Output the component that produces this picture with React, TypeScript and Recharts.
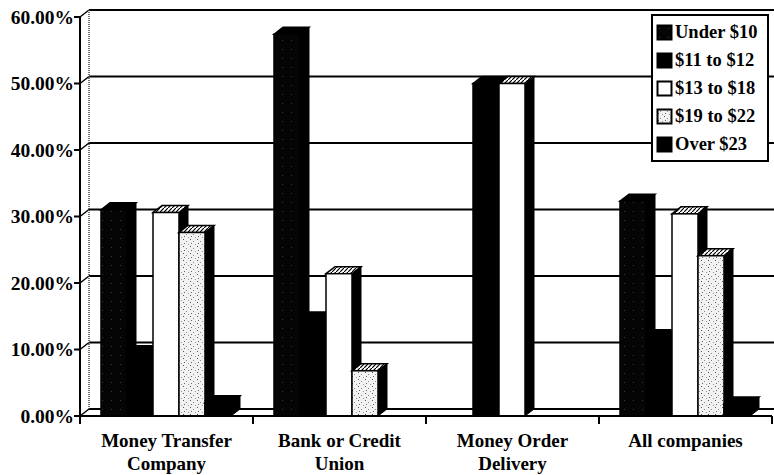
import { BarChart, Bar, XAxis, YAxis, CartesianGrid, Legend } from "recharts";

const categories = [
  "Money Transfer\nCompany",
  "Bank or Credit\nUnion",
  "Money Order\nDelivery",
  "All companies",
];
const seriesNames = ["Under $10", "$11 to $12", "$13 to $18", "$19 to $22", "Over $23"];
const under10 = [31.0, 57.4, 0, 32.3];
const from11to12 = [9.5, 14.6, 50, 11.9];
const from13to18 = [30.6, 21.4, 50, 30.4];
const from19to22 = [27.6, 6.8, 0, 24.1];
const over23 = [2.0, 0, 0, 1.8];
const yTicks = [0, 10, 20, 30, 40, 50, 60];

const data = categories.map((name, i) => ({
  name,
  s0: under10[i],
  s1: from11to12[i],
  s2: from13to18[i],
  s3: from19to22[i],
  s4: over23[i],
}));

const W = 774;
const H = 475;
const MARGIN = { top: 17, right: 2, left: 0, bottom: 0 };
const YAXIS_W = 80;
const BAND = (W - MARGIN.left - MARGIN.right - YAXIS_W) / categories.length;
const DX = 9;
const DY = -7;
const FONT = '"Liberation Serif", "Times New Roman", serif';

// front face + top + right side, excel 3d column look
function box3d(face: string, cap: string) {
  return (p: any) => {
    const { x, y, width: w, height: h } = p;
    if (!h || h < 0.5) return <g />;
    return (
      <g>
        <polygon
          points={`${x + w},${y} ${x + w + DX},${y + DY} ${x + w + DX},${y + h + DY} ${x + w},${y + h}`}
          fill="#000"
          stroke="#000"
        />
        <polygon
          points={`${x},${y} ${x + DX},${y + DY} ${x + w + DX},${y + DY} ${x + w},${y}`}
          fill={cap}
          stroke="#000"
          strokeWidth={1.5}
        />
        <rect x={x} y={y} width={w} height={h} fill={face} stroke="#000" strokeWidth={1.5} />
      </g>
    );
  };
}

const hLine = (p: any) => {
  const { x1, y1, x2, index } = p;
  return (
    <g key={`h-${index}`}>
      <line x1={x1} y1={y1} x2={x1 + DX} y2={y1 + DY} stroke="#000" strokeWidth={1.5} />
      <line x1={x1 + DX} y1={y1 + DY} x2={x2 + DX} y2={y1 + DY} stroke="#000" strokeWidth={2.2} />
    </g>
  );
};

const vLine = (p: any) => {
  const { x1, y1, x2, y2, index } = p;
  return (
    <line
      key={`v-${index}`}
      x1={x1 + DX}
      y1={y1 + DY}
      x2={x2 + DX}
      y2={y2 + DY}
      stroke="#444"
      strokeWidth={1.5}
      strokeDasharray="1 1"
    />
  );
};

const XTick = (p: any) => {
  const { x, y, payload, index } = p;
  const lines = String(payload.value).split("\n");
  const half = BAND / 2;
  return (
    <g>
      <line x1={x - half} y1={y} x2={x - half} y2={y + 8} stroke="#000" strokeWidth={2} />
      {index === categories.length - 1 && (
        <line x1={x + half} y1={y} x2={x + half} y2={y + 8} stroke="#000" strokeWidth={2} />
      )}
      <text x={x} y={y} textAnchor="middle" fill="#000" fontFamily={FONT} fontWeight="bold" fontSize={19}>
        {lines.map((l, i) => (
          <tspan key={i} x={x} dy={i === 0 ? 31 : 22.5}>
            {l}
          </tspan>
        ))}
      </text>
    </g>
  );
};

const renderLegend = (props: any) => {
  const items = [...(props.payload || [])].sort(
    (a: any, b: any) => seriesNames.indexOf(a.value) - seriesNames.indexOf(b.value)
  );
  return (
    <div
      style={{
        border: "2px solid #000",
        background: "#fff",
        padding: "2px 3px",
        fontFamily: FONT,
        fontWeight: "bold",
        fontSize: 18.5,
        color: "#000",
        lineHeight: "28px",
      }}
    >
      {items.map((e: any) => (
        <div key={e.value} style={{ display: "flex", alignItems: "center", height: 28 }}>
          <svg width={17} height={17} style={{ marginRight: 2 }}>
            <rect x={1.5} y={1.5} width={14} height={14} fill={e.color} stroke="#000" strokeWidth={2} />
          </svg>
          <span>{e.value}</span>
        </div>
      ))}
    </div>
  );
};

const fills = ["url(#dotsDark)", "#000", "#fff", "url(#dotsLight)", "#000"];
const caps = ["#000", "#000", "url(#hatch)", "url(#hatch)", "#000"];

export default function App() {
  return (
    <div style={{ position: "absolute", left: 0, top: 0, background: "#fff" }}>
      <BarChart width={W} height={H} data={data} margin={MARGIN} barCategoryGap={21} barGap={0}>
        <defs>
          <pattern id="dotsDark" width="9" height="9" patternUnits="userSpaceOnUse">
            <rect width="9" height="9" fill="#050505" />
            <rect x="3" y="4" width="1" height="1" fill="#3a3a3a" />
          </pattern>
          <pattern id="dotsLight" width="7" height="7" patternUnits="userSpaceOnUse">
            <rect width="7" height="7" fill="#f2f2f2" />
            <rect x="1" y="1" width="1" height="1" fill="#555" />
            <rect x="4" y="3" width="1" height="1" fill="#888" />
            <rect x="2" y="5" width="1" height="1" fill="#666" />
            <rect x="6" y="6" width="1" height="1" fill="#999" />
          </pattern>
          <pattern id="hatch" width="4" height="4" patternUnits="userSpaceOnUse">
            <rect width="4" height="4" fill="#fff" />
            <path d="M0,4 L4,0" stroke="#000" strokeWidth="1.2" />
          </pattern>
        </defs>
        <CartesianGrid
          horizontal={hLine}
          vertical={vLine}
          verticalCoordinatesGenerator={({ offset }: any) => [offset.left]}
        />
        <XAxis
          dataKey="name"
          height={59}
          axisLine={{ stroke: "#000", strokeWidth: 2 }}
          tickLine={false}
          tickSize={0}
          tickMargin={0}
          interval={0}
          tick={<XTick />}
        />
        <YAxis
          width={YAXIS_W}
          domain={[0, 60]}
          ticks={yTicks}
          interval={0}
          tickFormatter={(v: number) => `${v.toFixed(2)}%`}
          axisLine={{ stroke: "#000", strokeWidth: 2 }}
          tickLine={{ stroke: "#000", strokeWidth: 2 }}
          tickSize={6}
          tickMargin={0}
          tick={{ fill: "#000", fontFamily: FONT, fontWeight: "bold", fontSize: 19.5 }}
        />
        <Legend
          layout="vertical"
          align="center"
          verticalAlign="middle"
          content={renderLegend}
          wrapperStyle={{ left: 651, top: 14, width: 118 }}
        />
        {seriesNames.map((n, i) => (
          <Bar
            key={n}
            dataKey={`s${i}`}
            name={n}
            fill={fills[i]}
            isAnimationActive={false}
            shape={box3d(fills[i], caps[i])}
          />
        ))}
      </BarChart>
    </div>
  );
}
